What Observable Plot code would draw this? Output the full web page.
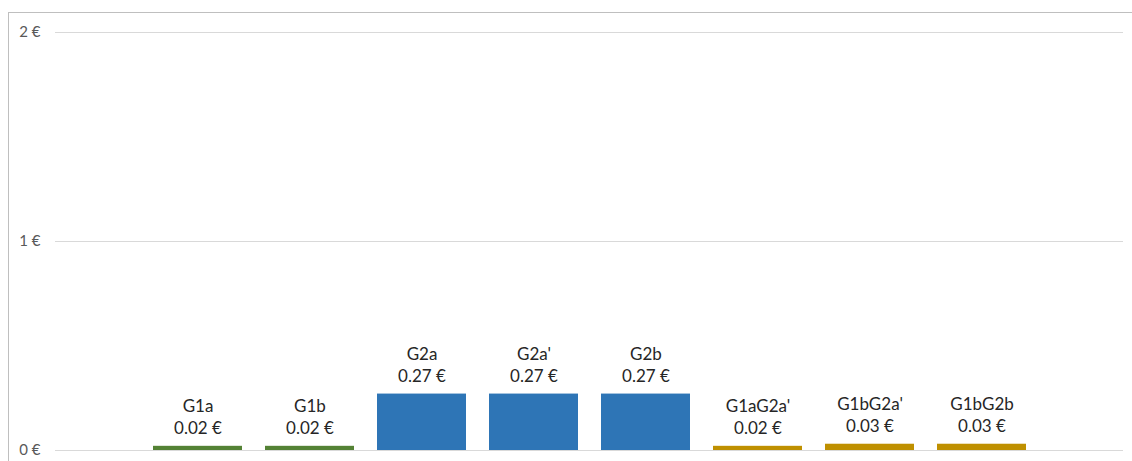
<!DOCTYPE html>
<html>
<head>
<meta charset="utf-8">
<script src="https://cdn.jsdelivr.net/npm/d3@7"></script>
<script src="https://cdn.jsdelivr.net/npm/@observablehq/plot@0.6"></script>
<style>
  html, body { margin: 0; padding: 0; background: #fff; }
  #wrap { position: relative; width: 1132px; height: 461px; overflow: hidden; }
  #border { position: absolute; left: 8px; top: 12px; width: 1200px; height: 600px;
            border-top: 1px solid #bfbfbf; border-left: 1px solid #bfbfbf; box-sizing: border-box; }
  #chart { position: absolute; left: 0; top: 0; }
</style>
</head>
<body>
<div id="wrap"><div id="border"></div><div id="chart"></div></div>
<script>
const categories = ["G1a", "G1b", "G2a", "G2a'", "G2b", "G1aG2a'", "G1bG2a'", "G1bG2b"];
const values = [0.02, 0.02, 0.27, 0.27, 0.27, 0.02, 0.03, 0.03];
const groups = ["G1", "G1", "G2", "G2", "G2", "G1G2", "G1G2", "G1G2"];
const groupColors = { "G1": "#548235", "G2": "#2E75B6", "G1G2": "#BF9000" };
const yTicks = [0, 1, 2];

const data = categories.map((c, i) => ({ cat: c, value: values[i], group: groups[i] }));

const chart = Plot.plot({
  width: 1132,
  height: 461,
  marginLeft: 55,
  marginRight: 9,
  marginTop: 32,
  marginBottom: 11,
  style: { fontFamily: "Lato, 'Open Sans', sans-serif", background: "transparent" },
  x: { domain: categories, paddingInner: 0.207, paddingOuter: 0.86, axis: null },
  y: { domain: [0, 2], ticks: yTicks, tickFormat: d => d + " €", label: null },
  marks: [
    Plot.ruleY(yTicks, { stroke: "#d9d9d9", strokeWidth: 1 }),
    Plot.axisY({ ticks: yTicks, tickFormat: d => d + " €", tickSize: 0, tickPadding: 15,
                 fontSize: 15, fill: "#595959", label: null }),
    Plot.barY(data, { x: "cat", y: "value", fill: d => groupColors[d.group] }),
    Plot.text(data, { x: "cat", y: "value", text: d => d.cat + "\n" + d.value.toFixed(2) + " €",
                      lineAnchor: "bottom", dy: -12, fontSize: 17, lineHeight: 1.3, fill: "#262626" })
  ]
});
document.getElementById("chart").appendChild(chart);
</script>
</body>
</html>
